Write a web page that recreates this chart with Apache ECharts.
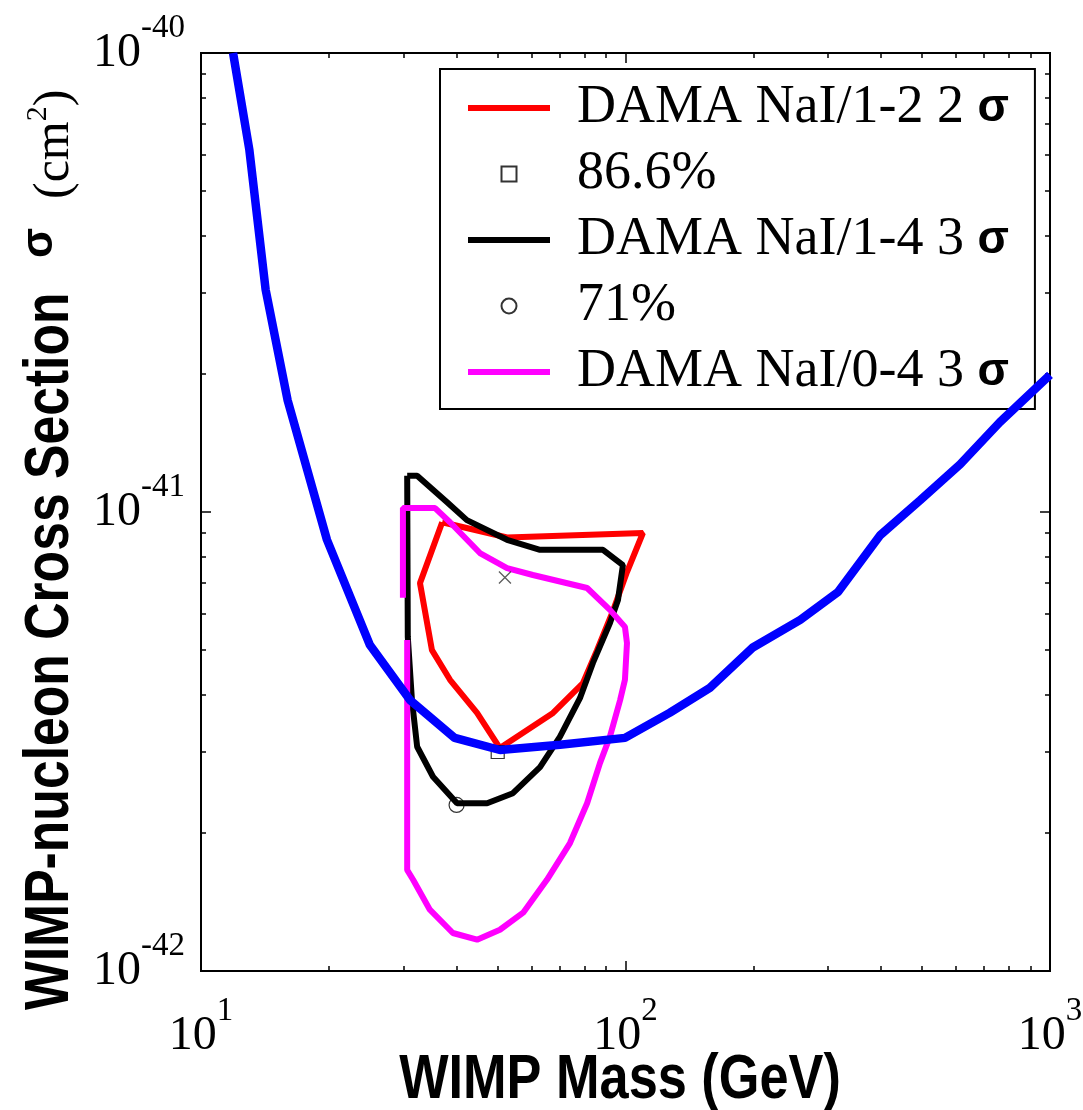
<!DOCTYPE html>
<html>
<head>
<meta charset="utf-8">
<script src="https://cdn.jsdelivr.net/npm/echarts@6/dist/echarts.min.js"></script>
<style>
html, body { margin: 0; padding: 0; background: #fff; }
#main { width: 1083px; height: 1110px; }
</style>
</head>
<body>
<div id="main"></div>
<script>
// values: WIMP mass (GeV), cross section (cm^2)
var limitMass  = [11.9, 13.0, 14.2, 16.0, 19.8, 25.0, 31.1, 39.6, 50.6, 70.1, 99.7, 127, 158, 199, 258, 317, 398, 494, 614, 762, 1000];
var limitSigma = [1e-40, 6.15e-41, 3.05e-41, 1.75e-41, 8.7e-42, 5.13e-42, 3.89e-42, 3.22e-42, 3.03e-42, 3.11e-42, 3.22e-42,
                  3.65e-42, 4.14e-42, 5.06e-42, 5.82e-42, 6.7e-42, 8.9e-42, 1.06e-41, 1.27e-41, 1.57e-41, 1.99e-41];

// DAMA NaI/1-2 2 sigma contour
var redMass  = [37.0, 52.6, 109.9, 100.8, 93.5, 85.7, 79.4, 67.5, 50.6, 44.7, 38.6, 35.0, 32.8, 37.0];
var redSigma = [9.5e-42, 8.8e-42, 9.0e-42, 7.4e-42, 6.1e-42, 5.0e-42, 4.24e-42, 3.65e-42, 3.06e-42, 3.65e-42, 4.31e-42, 5.0e-42, 7.0e-42, 9.5e-42];

// DAMA NaI/1-4 3 sigma contour
var blackMass  = [30.6, 32.3, 38.0, 42.3, 52.6, 62.9, 88.5, 98.6, 96.0, 91.9, 83.8, 78.1, 70.1, 62.9, 54.3, 47.2, 40.1, 35.2, 32.3, 31.4, 30.7, 30.6];
var blackSigma = [1.2e-41, 1.2e-41, 1.05e-41, 9.6e-42, 8.7e-42, 8.27e-42, 8.27e-42, 7.66e-42, 6.43e-42, 5.73e-42, 4.69e-42, 3.93e-42,
                  3.24e-42, 2.78e-42, 2.44e-42, 2.32e-42, 2.32e-42, 2.65e-42, 3.08e-42, 3.89e-42, 5.34e-42, 1.2e-41];

// DAMA NaI/0-4 3 sigma contour
var pinkMass  = [29.9, 29.9, 35.6, 38.6, 45.4, 52.6, 60.5, 81.2, 91.9, 99.7, 100.8, 99.7, 97.1, 91.9, 87.1, 81.2, 74.0, 65.3,
                 57.4, 50.6, 44.7, 39.2, 34.6, 31.6, 30.6, 30.6];
var pinkSigma = [6.5e-42, 1.02e-41, 1.02e-41, 9.5e-42, 8.14e-42, 7.55e-42, 7.29e-42, 6.83e-42, 6.12e-42, 5.62e-42, 5.18e-42, 4.31e-42,
                 3.89e-42, 3.24e-42, 2.84e-42, 2.32e-42, 1.9e-42, 1.58e-42, 1.34e-42, 1.23e-42, 1.17e-42, 1.21e-42, 1.36e-42,
                 1.58e-42, 1.66e-42, 5.26e-42];

// best-fit points [mass, sigma]
var squarePoint = [50, 3.0e-42];   // 86.6%
var circlePoint = [40, 2.3e-42];   // 71%
var crossPoint  = [52, 7.2e-42];

var seriesNames = ['DAMA NaI/1-2 2σ', '86.6%', 'DAMA NaI/1-4 3σ', '71%', 'DAMA NaI/0-4 3σ'];

var xMajor = [10, 100, 1000];
var xMinor = [20, 30, 40, 50, 60, 70, 80, 90, 200, 300, 400, 500, 600, 700, 800, 900];
var yMajor = [1e-42, 1e-41, 1e-40];
var yMinor = [2e-42, 3e-42, 4e-42, 5e-42, 6e-42, 7e-42, 8e-42, 9e-42, 2e-41, 3e-41, 4e-41, 5e-41, 6e-41, 7e-41, 8e-41, 9e-41];

// the y axis runs in units of 1e-42 cm^2 (echarts rounds away values this small)
var Y_UNIT = 1e-42;
function yu(v) { return Math.round(v / Y_UNIT * 1e6) / 1e6; }

function pairs(xs, ys) {
    return xs.map(function (x, i) { return [x, yu(ys[i])]; });
}

var labelRich = {
    b: { fontFamily: 'Liberation Serif', fontSize: 48, color: '#000', lineHeight: 48 },
    s: { fontFamily: 'Liberation Serif', fontSize: 33, color: '#000', padding: [0, 0, 50, 0] }
};

function makeAxis(kind, pos, ticks, len, withLabels) {
    var a = {
        type: 'log',
        position: pos,
        min: kind === 'x' ? 10 : yu(1e-42),
        max: kind === 'x' ? 1000 : yu(1e-40),
        splitLine: { show: false },
        axisLine: { show: true, onZero: false, lineStyle: { color: '#000', width: 2 } },
        axisTick: { show: true, inside: true, length: len, customValues: ticks, lineStyle: { color: '#000', width: 1.5 } },
        axisLabel: { show: false }
    };
    if (withLabels) {
        a.axisLabel = {
            show: true,
            customValues: ticks,
            formatter: function (v) {
                var e = Math.round(Math.log10(v)) + (kind === 'x' ? 0 : -42);
                return '{b|10}{s|' + e + '}';
            },
            margin: kind === 'x' ? 24 : 16,
            rich: labelRich
        };
    }
    return a;
}

var yMajorU = yMajor.map(yu);
var yMinorU = yMinor.map(yu);

var xAxes = [
    makeAxis('x', 'bottom', xMajor, 10, true),
    makeAxis('x', 'bottom', xMinor, 5, false),
    makeAxis('x', 'top', xMajor, 10, false),
    makeAxis('x', 'top', xMinor, 5, false)
];
var yAxes = [
    makeAxis('y', 'left', yMajorU, 10, true),
    makeAxis('y', 'left', yMinorU, 5, false),
    makeAxis('y', 'right', yMajorU, 10, false),
    makeAxis('y', 'right', yMinorU, 5, false)
];

function legendItem(name, icon) {
    return { name: name, icon: icon };
}

var chart = echarts.init(document.getElementById('main'));
chart.setOption({
    animation: false,
    backgroundColor: '#fff',
    grid: { left: 201, top: 53, right: 33, bottom: 139, containLabel: false, outerBoundsMode: 'none' },
    xAxis: xAxes,
    yAxis: yAxes,
    graphic: [
        {
            type: 'text', x: 620, y: 1081, scaleX: 0.83, z: 10,
            style: { text: 'WIMP Mass (GeV)', fontFamily: 'Liberation Sans', fontWeight: 'bold', fontSize: 63,
                     fill: '#000', align: 'center', verticalAlign: 'middle' }
        },
        {
            type: 'text', x: 51, y: 1010, rotation: Math.PI / 2, scaleX: 0.82, z: 10,
            style: { text: 'WIMP-nucleon Cross Section', fontFamily: 'Liberation Sans', fontWeight: 'bold', fontSize: 63,
                     fill: '#000', align: 'left', verticalAlign: 'middle' }
        },
        {
            type: 'text', x: 40, y: 243, rotation: Math.PI / 2, z: 10,
            style: { text: 'σ', fontFamily: 'Liberation Sans', fontWeight: 'bold', fontSize: 44,
                     fill: '#000', align: 'center', verticalAlign: 'middle' }
        },
        {
            type: 'text', x: 55, y: 199, rotation: Math.PI / 2, z: 10,
            style: {
                text: '{c|(cm}{p|2}{c|)}', align: 'left', verticalAlign: 'middle',
                rich: {
                    c: { fontFamily: 'Liberation Serif', fontSize: 50, fill: '#000' },
                    p: { fontFamily: 'Liberation Serif', fontSize: 30, fill: '#000', padding: [0, 0, 34, 0] }
                }
            }
        }
    ],
    legend: {
        data: [
            legendItem(seriesNames[0], 'path://M0,0H82V6H0Z'),
            legendItem(seriesNames[1], 'path://M0,0H10V10H0Z'),
            legendItem(seriesNames[2], 'path://M0,0H82V6H0Z'),
            legendItem(seriesNames[3], 'circle'),
            legendItem(seriesNames[4], 'path://M0,0H82V6H0Z')
        ],
        orient: 'vertical',
        left: 440,
        top: 69,
        backgroundColor: '#fff',
        borderColor: '#000',
        borderWidth: 2,
        padding: [12, 26, 10, 28],
        itemGap: 12,
        itemWidth: 82,
        itemHeight: 15,
        symbolKeepAspect: true,
        formatter: function (name) {
            var i = name.indexOf('σ');
            if (i < 0) return '{t|' + name + '}';
            return '{t|' + name.slice(0, i) + ' }{g|σ}';
        },
        textStyle: {
            rich: {
                t: { fontFamily: 'Liberation Serif', fontSize: 54, color: '#000', lineHeight: 54, padding: [0, 0, 0, 22] },
                g: { fontFamily: 'Liberation Sans', fontWeight: 'bold', fontSize: 46, color: '#000', lineHeight: 54 }
            }
        }
    },
    series: [
        {
            name: seriesNames[0], type: 'line', symbol: 'none', z: 2,
            lineStyle: { color: '#ff0000', width: 6 }, itemStyle: { color: '#ff0000' },
            data: pairs(redMass, redSigma)
        },
        {
            name: seriesNames[2], type: 'line', symbol: 'none', z: 3,
            lineStyle: { color: '#000', width: 6 }, itemStyle: { color: '#000' },
            data: pairs(blackMass, blackSigma)
        },
        {
            name: seriesNames[4], type: 'line', symbol: 'none', z: 4,
            lineStyle: { color: '#ff00ff', width: 6 }, itemStyle: { color: '#ff00ff' },
            data: pairs(pinkMass, pinkSigma)
        },
        {
            name: seriesNames[1], type: 'scatter', symbol: 'rect', symbolSize: 13, z: 4,
            itemStyle: { color: 'rgba(0,0,0,0)', borderColor: '#000', borderWidth: 1.2 },
            data: [[squarePoint[0], yu(squarePoint[1])]]
        },
        {
            name: 'limit', type: 'line', symbol: 'none', z: 5,
            lineStyle: { color: '#0000ff', width: 8.5 }, itemStyle: { color: '#0000ff' },
            data: pairs(limitMass, limitSigma)
        },
        {
            name: seriesNames[3], type: 'scatter', symbol: 'circle', symbolSize: 15, z: 6,
            itemStyle: { color: 'rgba(0,0,0,0)', borderColor: '#000', borderWidth: 1.2 },
            data: [[circlePoint[0], yu(circlePoint[1])]]
        },
        {
            name: 'fit', type: 'scatter', symbol: 'path://M0,0L10,10M0,10L10,0', symbolSize: 12, z: 6,
            itemStyle: { color: 'none', borderColor: '#333', borderWidth: 1.3 },
            data: [[crossPoint[0], yu(crossPoint[1])]]
        }
    ]
});
</script>
</body>
</html>
